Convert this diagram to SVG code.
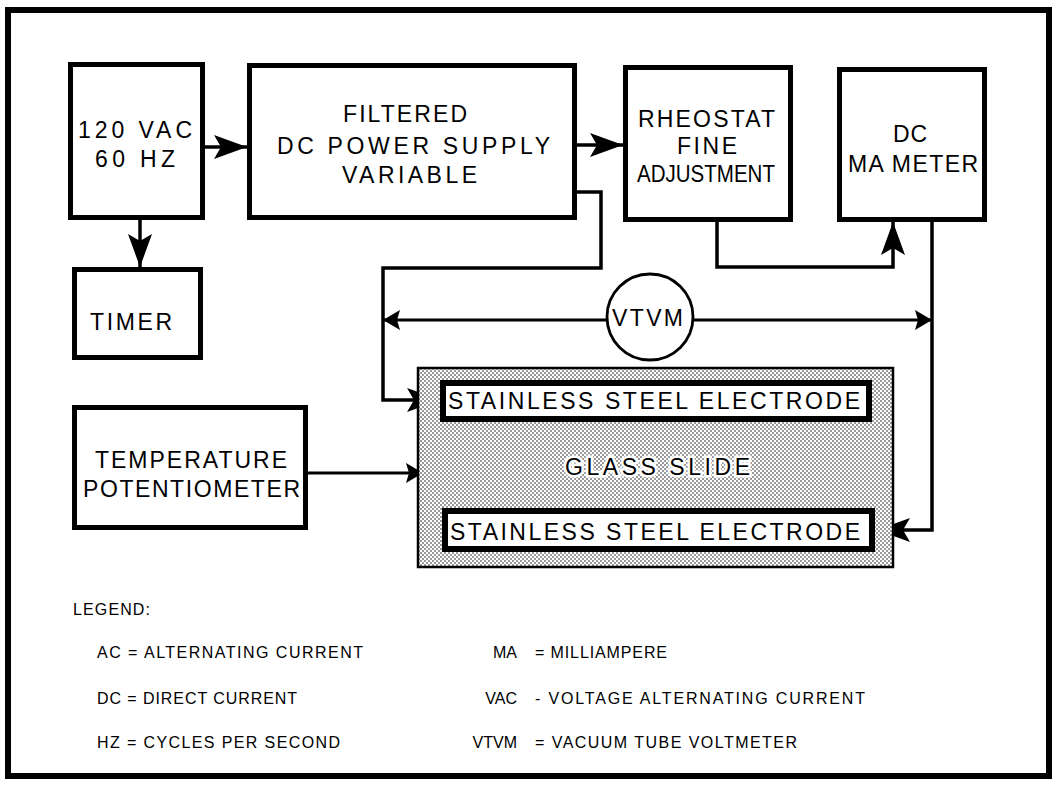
<svg xmlns="http://www.w3.org/2000/svg" width="1059" height="787" viewBox="0 0 1059 787">
<style>
.box{fill:#fff;stroke:#000;stroke-width:5}
.lbl{font-family:"Liberation Sans",Arial,sans-serif;font-size:23px;fill:#000}
.leg{font-family:"Liberation Sans",Arial,sans-serif;font-size:16px;fill:#000}
.con{fill:none;stroke:#000;stroke-width:3.5}
.thin{fill:none;stroke:#000;stroke-width:2.8}
.elec{fill:#fff;stroke:#000;stroke-width:6}
</style>
<defs>
<pattern id="stip" width="4" height="4" patternUnits="userSpaceOnUse">
<rect width="4" height="4" fill="#fff"/>
<circle cx="1" cy="1" r="0.75" fill="#000"/>
<circle cx="3" cy="3" r="0.75" fill="#000"/>
</pattern>
<marker id="big" markerUnits="userSpaceOnUse" markerWidth="34" markerHeight="26" refX="33" refY="13" orient="auto">
<path d="M0,1 L33,13 L0,25 L7,13 Z" fill="#000"/>
</marker>
<marker id="small" markerUnits="userSpaceOnUse" markerWidth="18" markerHeight="20" refX="17" refY="10" orient="auto">
<path d="M0,0 L17,10 L0,20 L3,10 Z" fill="#000"/>
</marker>
</defs>
<rect x="8" y="10" width="1041" height="766" fill="#fff" stroke="#000" stroke-width="6"/>

<g id="connectors">
<path class="con" d="M205,147 H247" marker-end="url(#big)"/>
<path class="con" d="M140,220 V267" marker-end="url(#big)"/>
<path class="con" d="M577,145 H623" marker-end="url(#big)"/>
<path class="con" d="M577,192 H601 V268 H383 V400 H440" marker-end="url(#big)"/>
<path class="con" d="M717,222 V267 H893 V222" marker-end="url(#big)"/>
<path class="con" d="M932,222 V530 H877" marker-end="url(#big)"/>
<path class="thin" d="M607,320 H383" marker-end="url(#small)"/>
<path class="thin" d="M693,320 H932" marker-end="url(#small)"/>
<path class="thin" d="M308,473 H423" marker-end="url(#small)"/>
</g>

<g id="n-120vac">
<rect class="box" x="70.5" y="64.5" width="132" height="153"/>
<text class="lbl" x="78" y="138" textLength="114" lengthAdjust="spacing">120 VAC</text>
<text class="lbl" x="95" y="167" textLength="80" lengthAdjust="spacing">60 HZ</text>
</g>
<g id="n-filtered">
<rect class="box" x="249.5" y="65.5" width="325" height="152"/>
<text class="lbl" x="343" y="122" textLength="124" lengthAdjust="spacing">FILTERED</text>
<text class="lbl" x="277" y="154" textLength="273" lengthAdjust="spacing">DC POWER SUPPLY</text>
<text class="lbl" x="342" y="183" textLength="135" lengthAdjust="spacing">VARIABLE</text>
</g>
<g id="n-rheostat">
<rect class="box" x="625.5" y="67.5" width="165" height="152"/>
<text class="lbl" x="638" y="127" textLength="137" lengthAdjust="spacing">RHEOSTAT</text>
<text class="lbl" x="677" y="154" textLength="60" lengthAdjust="spacing">FINE</text>
<text class="lbl" x="637" y="182" textLength="138" lengthAdjust="spacingAndGlyphs">ADJUSTMENT</text>
</g>
<g id="n-mameter">
<rect class="box" x="839.5" y="69.5" width="145" height="150"/>
<text class="lbl" x="893" y="142" textLength="34" lengthAdjust="spacing">DC</text>
<text class="lbl" x="848" y="172" textLength="130" lengthAdjust="spacing">MA METER</text>
</g>
<g id="n-timer">
<rect class="box" x="74.5" y="269.5" width="126" height="88"/>
<text class="lbl" x="90" y="330" textLength="82" lengthAdjust="spacing">TIMER</text>
</g>
<g id="n-temp">
<rect class="box" x="74.5" y="407.5" width="231" height="120"/>
<text class="lbl" x="95" y="468" textLength="192" lengthAdjust="spacing">TEMPERATURE</text>
<text class="lbl" x="83" y="497" textLength="217" lengthAdjust="spacing">POTENTIOMETER</text>
</g>
<g id="n-vtvm">
<circle cx="650" cy="317" r="43" fill="#fff" stroke="#000" stroke-width="2.8"/>
<text class="lbl" x="612" y="326" textLength="71" lengthAdjust="spacing">VTVM</text>
</g>
<g id="n-glassslide">
<rect x="418" y="368" width="475" height="199" fill="url(#stip)" stroke="#000" stroke-width="2.5"/>
<text class="lbl" x="565" y="475" textLength="185" lengthAdjust="spacing" stroke="#fff" stroke-width="5" paint-order="stroke">GLASS SLIDE</text>
</g>
<g id="n-electrode-top">
<rect class="elec" x="443" y="383" width="426" height="36"/>
<text class="lbl" x="448" y="409" textLength="412" lengthAdjust="spacing">STAINLESS STEEL ELECTRODE</text>
</g>
<g id="n-electrode-bottom">
<rect class="elec" x="445" y="511" width="427" height="38"/>
<text class="lbl" x="450" y="540" textLength="410" lengthAdjust="spacing">STAINLESS STEEL ELECTRODE</text>
</g>

<g id="legend">
<text class="leg" x="73" y="615" textLength="77" lengthAdjust="spacing">LEGEND:</text>
<text class="leg" x="97" y="658" textLength="266" lengthAdjust="spacing">AC = ALTERNATING CURRENT</text>
<text class="leg" x="97" y="704" textLength="200" lengthAdjust="spacing">DC = DIRECT CURRENT</text>
<text class="leg" x="97" y="748" textLength="243" lengthAdjust="spacing">HZ = CYCLES PER SECOND</text>
<text class="leg" x="517" y="658" text-anchor="end">MA</text>
<text class="leg" x="535" y="658" textLength="132" lengthAdjust="spacing">= MILLIAMPERE</text>
<text class="leg" x="517" y="704" text-anchor="end">VAC</text>
<text class="leg" x="535" y="704" textLength="330" lengthAdjust="spacing">- VOLTAGE ALTERNATING CURRENT</text>
<text class="leg" x="517" y="748" text-anchor="end">VTVM</text>
<text class="leg" x="535" y="748" textLength="262" lengthAdjust="spacing">= VACUUM TUBE VOLTMETER</text>
</g>
</svg>
